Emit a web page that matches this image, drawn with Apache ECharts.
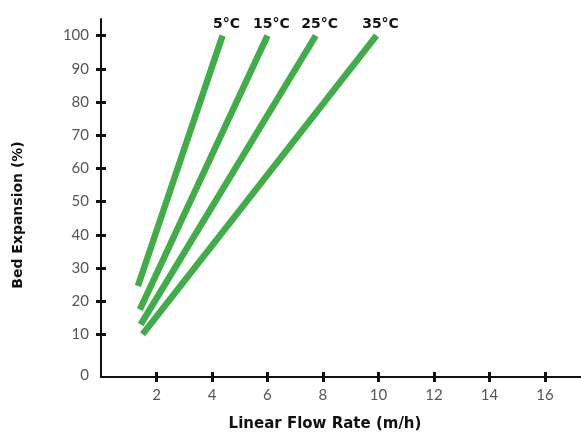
<!DOCTYPE html>
<html>
    <head>
        <title>bed_expansion</title>
        <script src="https://cdnjs.cloudflare.com/ajax/libs/echarts/6.0.0/echarts.min.js"></script>
        <style>
            html, body { margin: 0; padding: 0; background: #fff; }
        </style>
    </head>
    <body>
        <div id="main" style="width: 581px; height: 437px;"></div>
        <script>
            // one line per temperature, from first to last reading
            var temps = ['5°C', '15°C', '25°C', '35°C'];
            var flowStart = [1.33, 1.4, 1.43, 1.5];
            var expStart = [24.6, 17.5, 13, 10.1];
            var flowEnd = [4.38, 6.0, 7.74, 9.93];
            var expEnd = [100, 100, 100, 100];

            var xTicks = [2, 4, 6, 8, 10, 12, 14, 16];
            var yTicks = [10, 20, 30, 40, 50, 60, 70, 80, 90, 100];
            var yLabels = [0, 10, 20, 30, 40, 50, 60, 70, 80, 90, 100];

            var green = '#43ac4a';
            var labelFont = 'Lato';
            var boldFont = 'DejaVu Sans';

            var series = temps.map(function (t, i) {
                return {
                    name: t,
                    type: 'line',
                    showSymbol: true,
                    symbol: 'circle',
                    symbolSize: 0.1, // points need a symbol so the end label draws
                    silent: true,
                    lineStyle: { color: green, width: 6.5, cap: 'butt' },
                    data: [
                        [flowStart[i], expStart[i]],
                        { value: [flowEnd[i], expEnd[i]], label: {
                            show: true, position: 'top', distance: 4, offset: [4, 0],
                            formatter: t, color: '#111',
                            fontFamily: boldFont, fontWeight: 'bold', fontSize: 14
                        } }
                    ],
                    label: { show: false }
                };
            });

            var chart = echarts.init(document.getElementById('main'));
            chart.setOption({
                animation: false,
                grid: { left: 101, right: 0, top: 19, bottom: 57 },
                xAxis: [{
                    type: 'value',
                    min: 0,
                    max: 17.3,
                    name: 'Linear Flow Rate (m/h)',
                    nameLocation: 'middle',
                    nameGap: 40,
                    nameTextStyle: { color: '#111', fontFamily: boldFont, fontWeight: 'bold', fontSize: 15, padding: [0, 32, 0, 0] },
                    axisLine: { onZero: false, lineStyle: { color: '#111', width: 2 } },
                    axisTick: { show: true, length: 5, lineStyle: { color: '#111', width: 3 }, customValues: xTicks },
                    axisLabel: { color: '#555', fontFamily: labelFont, fontSize: 15, margin: 11, customValues: xTicks },
                    splitLine: { show: false }
                }, {
                    type: 'value',
                    position: 'bottom',
                    min: 0,
                    max: 17.3,
                    axisLine: { show: false, onZero: false },
                    axisTick: { show: true, inside: true, length: 5, lineStyle: { color: '#111', width: 3 }, customValues: xTicks },
                    axisLabel: { show: false },
                    splitLine: { show: false }
                }],
                yAxis: [{
                    type: 'value',
                    min: -2.8,
                    max: 105,
                    name: 'Bed Expansion (%)',
                    nameLocation: 'middle',
                    nameGap: 76,
                    nameTextStyle: { color: '#111', fontFamily: boldFont, fontWeight: 'bold', fontSize: 14, padding: [0, 34, 0, 0] },
                    axisLine: { show: true, onZero: false, lineStyle: { color: '#111', width: 2 } },
                    axisTick: { show: true, length: 5, lineStyle: { color: '#111', width: 3 }, customValues: yTicks },
                    axisLabel: {
                        color: '#555', fontFamily: labelFont, fontSize: 15, margin: 12, customValues: yLabels,
                        // the zero label sits a little lower, next to the x axis
                        formatter: function (v) { return v === 0 ? '{z|0}' : String(v); },
                        rich: { z: { color: '#555', fontFamily: labelFont, fontSize: 15, padding: [14, 0, 0, 0] } }
                    },
                    splitLine: { show: false }
                }, {
                    type: 'value',
                    position: 'left',
                    min: -2.8,
                    max: 105,
                    axisLine: { show: false, onZero: false },
                    axisTick: { show: true, inside: true, length: 5, lineStyle: { color: '#111', width: 3 }, customValues: yTicks },
                    axisLabel: { show: false },
                    splitLine: { show: false }
                }],
                series: series
            });
        </script>
    </body>
</html>
